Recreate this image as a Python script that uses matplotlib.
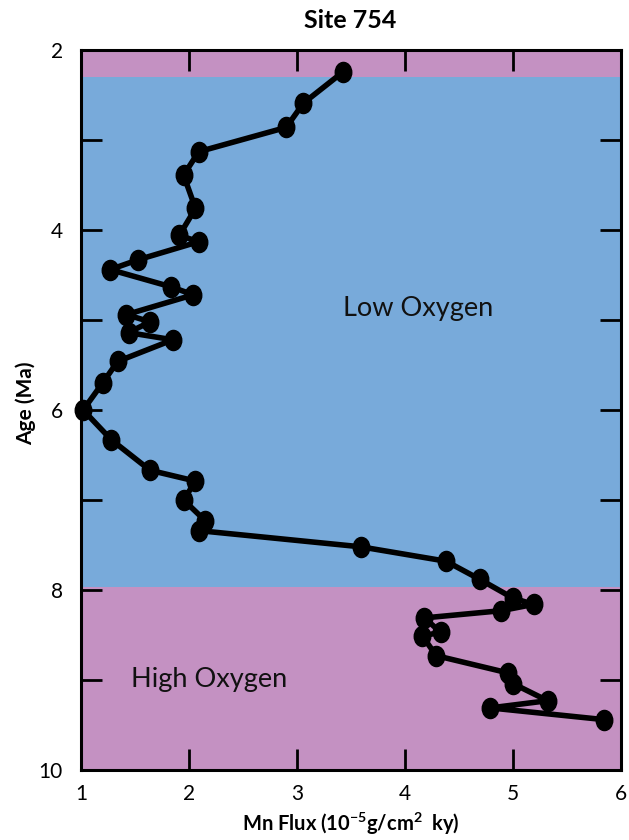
import matplotlib
matplotlib.use("Agg")
import matplotlib.pyplot as plt
import numpy as np
from matplotlib.path import Path
from matplotlib.ticker import FuncFormatter, MultipleLocator

# Data
mn_flux = [3.43, 3.06, 2.90, 2.09, 1.95, 2.06, 1.91, 2.09, 1.53, 1.27,
           1.83, 2.04, 1.42, 1.64, 1.44, 1.85, 1.34, 1.20, 1.02, 1.28,
           1.64, 2.06, 1.95, 2.15, 2.09, 3.59, 4.38, 4.69, 5.00, 5.19,
           4.89, 4.18, 4.33, 4.16, 4.29, 4.95, 5.00, 5.32, 4.79, 5.84]
age_ma = [2.24, 2.59, 2.86, 3.13, 3.39, 3.76, 4.06, 4.13, 4.33, 4.44,
          4.63, 4.72, 4.94, 5.02, 5.14, 5.22, 5.46, 5.70, 6.00, 6.33,
          6.67, 6.79, 7.00, 7.23, 7.34, 7.52, 7.68, 7.88, 8.09, 8.16,
          8.23, 8.31, 8.47, 8.51, 8.73, 8.92, 9.04, 9.23, 9.31, 9.44]

# Oxygen zones
zone_bounds = [2.0, 2.3, 7.97, 10.0]
zone_names = ["High Oxygen", "Low Oxygen", "High Oxygen"]
zone_label_pos = {"Low Oxygen": (4.12, 4.87), "High Oxygen": (2.19, 9.0)}

title = "Site 754"
xlabel = r"Mn Flux (10$^{\mathregular{-5}}$g/cm$^{\mathregular{2}}$  ky)"
ylabel = "Age (Ma)"

pink = "#C491C2"
blue = "#78AADA"

plt.rcParams['font.family'] = ['Lato', 'DejaVu Sans']
plt.rcParams['mathtext.default'] = 'regular'

fig = plt.figure(figsize=(6.29, 8.40), dpi=100)
ax = fig.add_axes([81/629, 70/840, 540/629, 720/840])

colors = {"High Oxygen": pink, "Low Oxygen": blue}
for i, name in enumerate(zone_names):
    ax.axhspan(zone_bounds[i], zone_bounds[i+1], color=colors[name], lw=0, zorder=0)

# ellipse marker (taller than wide)
circ = Path.unit_circle()
ell = Path(circ.vertices * np.array([0.82, 1.0]), circ.codes)

ax.plot(mn_flux, age_ma, color='black', lw=4, marker=ell, markersize=14.5,
        markerfacecolor='black', markeredgecolor='black', zorder=3, clip_on=False)

ax.text(*zone_label_pos["Low Oxygen"], "Low Oxygen", fontsize=19.5, ha='center', va='center', color='#111111')
ax.text(*zone_label_pos["High Oxygen"], "High Oxygen", fontsize=19.5, ha='center', va='center', color='#111111')

ax.set_xlim(1, 6)
ax.set_ylim(10, 2)
ax.xaxis.set_major_locator(MultipleLocator(1))
ax.yaxis.set_major_locator(MultipleLocator(1))
ax.yaxis.set_major_formatter(FuncFormatter(lambda v, p: f"{int(round(v))}" if int(round(v)) % 2 == 0 else ""))
ax.xaxis.set_major_formatter(FuncFormatter(lambda v, p: f"{int(round(v))}"))

ax.tick_params(direction='in', length=15, width=2, top=True, right=True,
               labelsize=15, pad=10)
ax.tick_params(axis='y', pad=13)
for s in ax.spines.values():
    s.set_linewidth(2.2)

ax.set_xlabel(xlabel, fontsize=14.5, fontweight='bold')
ax.xaxis.set_label_coords(0.5, -0.056)
ax.set_ylabel(ylabel, fontsize=15, fontweight='bold')
ax.yaxis.set_label_coords(-0.083, 0.51)

fig.text(350/629, 1 - 20/840, title, fontsize=18, fontweight='bold', ha='center', va='center')

fig.savefig("out.png", dpi=100)
